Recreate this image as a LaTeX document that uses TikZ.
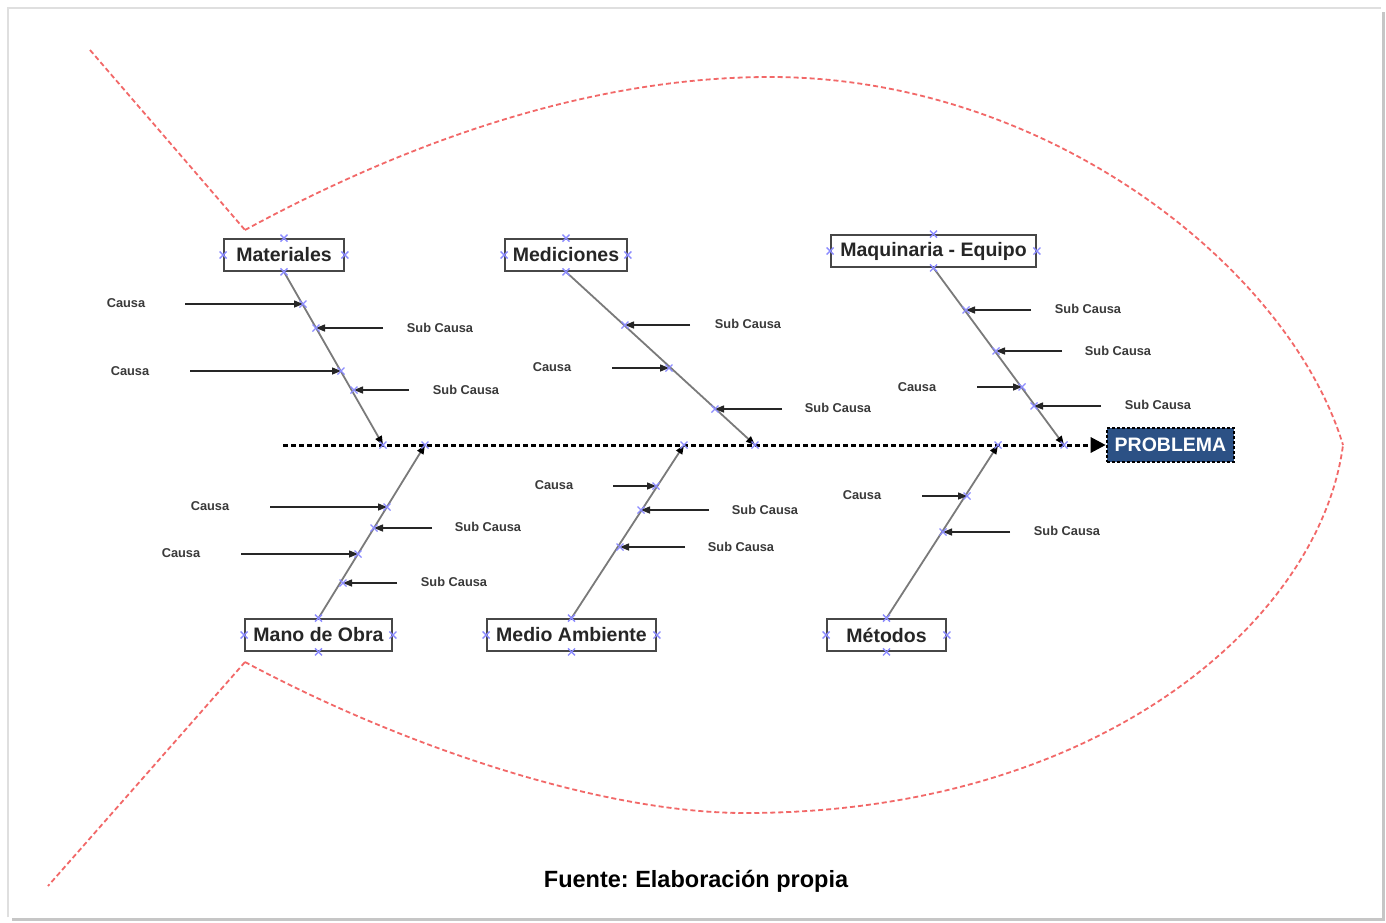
\documentclass[tikz,border=0pt]{standalone}
\usepackage{fontspec}
\setmainfont{Liberation Sans}
\usetikzlibrary{arrows.meta}
\definecolor{fishred}{HTML}{F26868}
\definecolor{xblue}{HTML}{8C8CFF}
\definecolor{probblue}{HTML}{2C5185}
\definecolor{bonegray}{HTML}{7A7A7A}
\definecolor{lblgray}{HTML}{3A3A3A}
\frenchspacing
\newcommand\causeline[7]{%
  \node[lbl] (#1) at (#2,#3) {#4};
  \coordinate (#1s) at (#5,#7);
  \coordinate (#1e) at (#6,#7);
  \draw[causearrow] (#1s) -- (#1e);
  \pic at (#1e) {xm};}
\begin{document}
\begin{tikzpicture}[x=1pt,y=-1pt,
  catbox/.style={draw=black!72, line width=1.8pt, fill=white, inner sep=0pt, font=\fontsize{19.5}{20}\selectfont\bfseries, text=black!85},
  probbox/.style={draw=black, line width=2.6pt, dash pattern=on 3pt off 2pt, fill=probblue, inner sep=0pt, minimum width=127pt, minimum height=34pt, font=\fontsize{19.5}{20}\selectfont\bfseries, text=white},
  lbl/.style={font=\fontsize{12.8}{13}\selectfont\bfseries, text=lblgray, inner sep=0pt},
  causearrow/.style={draw=black!85, line width=1.4pt, -{Triangle[length=9pt,width=7pt]}},
  bone/.style={draw=bonegray, line width=1.8pt, -{Triangle[length=9pt,width=7pt,color=black]}},
  spine/.style={draw=black, line width=3pt, dash pattern=on 5pt off 3pt, -{Triangle[length=15pt,width=15pt]}},
  fish/.style={draw=fishred, line width=1.8pt, dash pattern=on 5pt off 3pt},
  xmk/.style={draw=xblue, line width=1.3pt},
  xm/.pic={\draw[xmk] (-3.5,-3.5) -- (3.5,3.5) (-3.5,3.5) -- (3.5,-3.5);}
]
\useasboundingbox (0,0) rectangle (1386,922);
% frame
\fill[white] (0,0) rectangle (1386,922);
\draw[gray!45, line width=3pt] (1383,12) -- (1383,919) -- (12,919);
\draw[gray!25, line width=1.2pt] (8,917) -- (8,8) -- (1381,8);
% fish outline
\coordinate (tailA) at (90,50);
\coordinate (finT) at (245,230);
\coordinate (finB) at (245,662);
\coordinate (tailB) at (48,886);
\coordinate (nose) at (1343,445);
\coordinate (top) at (770,77);
\coordinate (bot) at (745,813);
\draw[fish] (tailA) -- (finT);
\draw[fish] (finB) -- (tailB);
\draw[fish] (finT) .. controls (420,135) and (600,77) .. (top)
  .. controls (1050,77) and (1290,270) .. (nose);
\draw[fish] (finB) .. controls (400,745) and (600,813) .. (bot)
  .. controls (1100,813) and (1320,620) .. (nose);
% spine
\coordinate (s0) at (283,445);
\coordinate (j1) at (383,445);
\coordinate (j2) at (425,445);
\coordinate (j3) at (684,445);
\coordinate (j4) at (755,445);
\coordinate (j5) at (998,445);
\coordinate (j6) at (1064,445);
\node[probbox] (prob) at (1170.5,445) {PROBLEMA};
\draw[spine] (s0) -- (prob.west);
% category boxes
\node[catbox, minimum width=120pt, minimum height=32pt] (mat) at (284,255) {Materiales};
\node[catbox, minimum width=122pt, minimum height=32pt] (med) at (566,255) {Mediciones};
\node[catbox, minimum width=205pt, minimum height=32pt] (maq) at (933.5,251) {Maquinaria - Equipo};
\node[catbox, minimum width=147pt, minimum height=32pt] (mano) at (318.5,635) {Mano de Obra};
\node[catbox, minimum width=169pt, minimum height=32pt] (amb) at (571.5,635) {Medio Ambiente};
\node[catbox, minimum width=119pt, minimum height=32pt] (met) at (886.5,635) {Métodos};
% bones
\draw[bone] (mat.south) -- (j1);
\draw[bone] (med.south) -- (j4);
\draw[bone] (maq.south) -- (j6);
\draw[bone] (mano.north) -- (j2);
\draw[bone] (amb.north) -- (j3);
\draw[bone] (met.north) -- (j5);
% markers on boxes and spine
\foreach \b in {mat,med,maq,mano,amb,met}{
  \pic at (\b.north) {xm}; \pic at (\b.south) {xm};
  \pic at (\b.east) {xm}; \pic at (\b.west) {xm};}
\foreach \j in {j1,j2,j3,j4,j5,j6}{\pic at (\j) {xm};}
% causes: Materiales
\causeline{c1}{126}{303}{Causa}{185}{303}{304}
\causeline{s1}{440}{328}{Sub Causa}{383}{316}{328}
\causeline{c2}{130}{371}{Causa}{190}{341}{371}
\causeline{s2}{466}{390}{Sub Causa}{409}{354}{390}
% Mediciones
\causeline{s3}{748}{324}{Sub Causa}{690}{625}{325}
\causeline{c3}{552}{367}{Causa}{612}{669}{368}
\causeline{s4}{838}{408}{Sub Causa}{782}{715}{409}
% Maquinaria - Equipo
\causeline{s5}{1088}{309}{Sub Causa}{1031}{966}{310}
\causeline{s6}{1118}{351}{Sub Causa}{1062}{996}{351}
\causeline{c4}{917}{387}{Causa}{977}{1022}{387}
\causeline{s7}{1158}{405}{Sub Causa}{1101}{1034}{406}
% Mano de Obra
\causeline{c5}{210}{506}{Causa}{270}{387}{507}
\causeline{s8}{488}{527}{Sub Causa}{432}{374}{528}
\causeline{c6}{181}{553}{Causa}{241}{358}{554}
\causeline{s9}{454}{582}{Sub Causa}{397}{343}{583}
% Medio Ambiente
\causeline{c7}{554}{485}{Causa}{613}{656}{486}
\causeline{s10}{765}{510}{Sub Causa}{709}{641}{510}
\causeline{s11}{741}{547}{Sub Causa}{685}{620}{547}
% Metodos
\causeline{c8}{862}{495}{Causa}{922}{967}{496}
\causeline{s12}{1067}{531}{Sub Causa}{1010}{943}{532}
% caption
\node[font=\fontsize{23.5}{24}\selectfont\bfseries, inner sep=0pt] (src) at (696,881) {Fuente: Elaboración propia};
\end{tikzpicture}
\end{document}
